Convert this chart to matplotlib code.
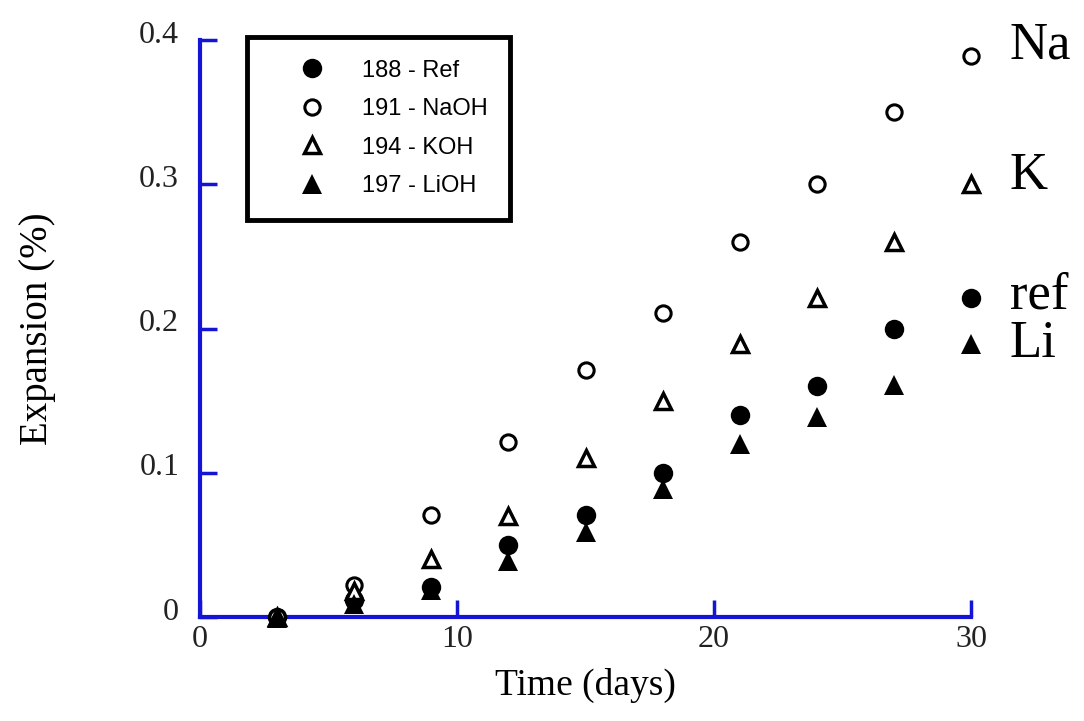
import matplotlib

matplotlib.use("Agg")

import matplotlib.pyplot as plt
from matplotlib.transforms import ScaledTranslation

DAYS = [3, 6, 9, 12, 15, 18, 21, 24, 27, 30]
REF = [0.0, 0.012, 0.021, 0.05, 0.071, 0.10, 0.14, 0.16, 0.20, 0.221]
NAOH = [0.0, 0.022, 0.071, 0.121, 0.171, 0.211, 0.26, 0.30, 0.35, 0.389]
KOH = [0.0, 0.018, 0.04, 0.07, 0.11, 0.15, 0.189, 0.221, 0.26, 0.30]
LIOH = [-0.001, 0.009, 0.019, 0.039, 0.059, 0.089, 0.12, 0.139, 0.161, 0.189]

SERIES_LABELS = ["188 - Ref", "191 - NaOH", "194 - KOH", "197 - LiOH"]
END_LABELS = ["ref", "Na", "K", "Li"]
END_LABEL_Y = [0.223, 0.396, 0.306, 0.189]

X_TICKS = [0, 10, 20, 30]
Y_TICKS = [0, 0.1, 0.2, 0.3, 0.4]
Y_TICK_LABELS = ["0", "0.1", "0.2", "0.3", "0.4"]

BLUE = "#1414d6"
SERIF = "Liberation Serif"
SANS = "Liberation Sans"


def main():
    fig = plt.figure(figsize=(10.84, 7.21), dpi=100)
    ax = fig.add_axes([0.1845, 0.1442, 0.7113, 0.8003])

    common = dict(linestyle="none", clip_on=False, zorder=3)
    ref_line, = ax.plot(DAYS, REF, marker="o", markersize=14, color="black",
                        markeredgewidth=0, **common)
    na_line, = ax.plot(DAYS, NAOH, marker="o", markersize=11, markerfacecolor="white",
                       markeredgecolor="black", markeredgewidth=2.2, **common)
    k_line, = ax.plot(DAYS, KOH, marker="^", markersize=12, markerfacecolor="white",
                      markeredgecolor="black", markeredgewidth=2.5, **common)
    li_line, = ax.plot(DAYS, LIOH, marker="^", markersize=14, color="black",
                       markeredgewidth=0, **common)

    ax.set_xlim(0, 30)
    ax.set_ylim(0, 0.4)
    ax.set_xticks(X_TICKS)
    ax.set_yticks(Y_TICKS)
    ax.set_yticklabels(Y_TICK_LABELS)

    for side in ["top", "right"]:
        ax.spines[side].set_visible(False)
    for side in ["left", "bottom"]:
        ax.spines[side].set_color(BLUE)
        ax.spines[side].set_linewidth(3)

    ax.tick_params(axis="both", direction="in", length=12, width=2.5, color=BLUE,
                   labelsize=23, labelcolor="#222222")
    ax.tick_params(axis="y", pad=15)
    ax.tick_params(axis="x", pad=6)
    lift = ScaledTranslation(0, 6 / 72, fig.dpi_scale_trans)
    for lbl in ax.get_yticklabels():
        lbl.set_fontfamily(SERIF)
        lbl.set_transform(lbl.get_transform() + lift)
    for lbl in ax.get_xticklabels():
        lbl.set_fontfamily(SERIF)

    ax.set_xlabel("Time (days)", fontsize=27, family=SERIF, labelpad=10)
    ax.set_ylabel("Expansion (%)", fontsize=28, family=SERIF, labelpad=60)

    for text, y in zip(END_LABELS, END_LABEL_Y):
        ax.text(31.5, y, text, fontsize=38, family=SERIF, va="center", ha="left",
                clip_on=False)

    leg = ax.legend([ref_line, na_line, k_line, li_line], SERIES_LABELS,
                    loc="upper left", bbox_to_anchor=(0.061, 1.005),
                    borderaxespad=0, prop={"family": SANS, "size": 17}, numpoints=1,
                    handlelength=3.6, handletextpad=0.3, borderpad=0.95,
                    labelspacing=0.7, fancybox=False, framealpha=1,
                    edgecolor="black")
    leg.get_frame().set_linewidth(3.5)

    fig.savefig("out.png", dpi=100)
    plt.close(fig)


if __name__ == "__main__":
    main()
